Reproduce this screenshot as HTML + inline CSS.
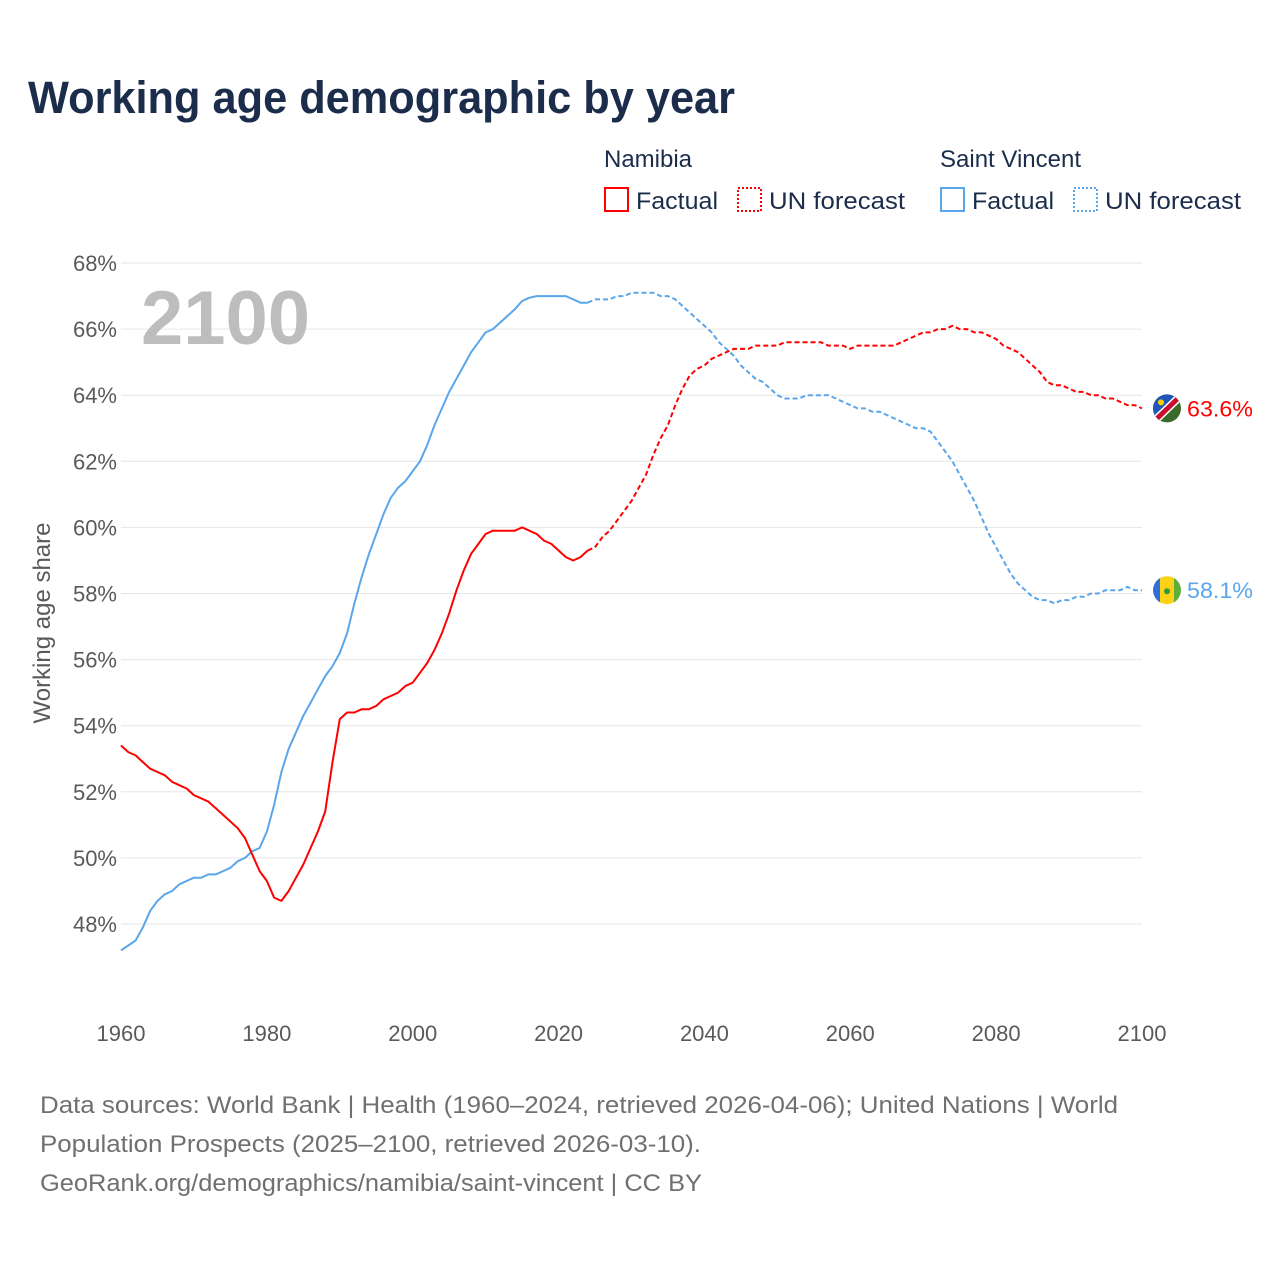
<!DOCTYPE html>
<html><head><meta charset="utf-8"><style>
body{margin:0;background:#fff;font-family:"Liberation Sans",sans-serif}
#wrap{position:relative;width:1280px;height:1280px;overflow:hidden}
</style></head><body>
<div id="wrap">
<svg id="chart" width="1280" height="1280"></svg>
</div>
<script>
const years0 = 1960;
const namFactual = [53.4,53.2,53.1,52.9,52.7,52.6,52.5,52.3,52.2,52.1,
51.9,51.8,51.7,51.5,51.3,51.1,50.9,50.6,50.1,49.6,
49.3,48.8,48.7,49.0,49.4,49.8,50.3,50.8,51.4,52.9,
54.2,54.4,54.4,54.5,54.5,54.6,54.8,54.9,55.0,55.2,
55.3,55.6,55.9,56.3,56.8,57.4,58.1,58.7,59.2,59.5,
59.8,59.9,59.9,59.9,59.9,60.0,59.9,59.8,59.6,59.5,
59.3,59.1,59.0,59.1,59.3];
const namForecast = [59.4,59.7,59.9,60.2,60.5,60.8,61.2,61.6,62.2,62.7,
63.1,63.7,64.2,64.6,64.8,64.9,65.1,65.2,65.3,65.4,
65.4,65.4,65.5,65.5,65.5,65.5,65.6,65.6,65.6,65.6,
65.6,65.6,65.5,65.5,65.5,65.4,65.5,65.5,65.5,65.5,
65.5,65.5,65.6,65.7,65.8,65.9,65.9,66.0,66.0,66.1,
66.0,66.0,65.9,65.9,65.8,65.7,65.5,65.4,65.3,65.1,
64.9,64.7,64.4,64.3,64.3,64.2,64.1,64.1,64.0,64.0,
63.9,63.9,63.8,63.7,63.7,63.6];
const vctFactual = [47.2,47.35,47.5,47.9,48.4,48.7,48.9,49.0,49.2,49.3,
49.4,49.4,49.5,49.5,49.6,49.7,49.9,50.0,50.2,50.3,
50.8,51.6,52.6,53.3,53.8,54.3,54.7,55.1,55.5,55.8,
56.2,56.8,57.7,58.5,59.2,59.8,60.4,60.9,61.2,61.4,
61.7,62.0,62.5,63.1,63.6,64.1,64.5,64.9,65.3,65.6,
65.9,66.0,66.2,66.4,66.6,66.85,66.95,67.0,67.0,67.0,
67.0,67.0,66.9,66.8,66.8];
const vctForecast = [66.9,66.9,66.9,67.0,67.0,67.1,67.1,67.1,67.1,67.0,
67.0,66.9,66.7,66.5,66.3,66.1,65.9,65.6,65.4,65.2,
64.9,64.7,64.5,64.4,64.2,64.0,63.9,63.9,63.9,64.0,
64.0,64.0,64.0,63.9,63.8,63.7,63.6,63.6,63.5,63.5,
63.4,63.3,63.2,63.1,63.0,63.0,62.9,62.6,62.3,62.0,
61.6,61.2,60.8,60.3,59.8,59.4,59.0,58.6,58.3,58.1,
57.9,57.8,57.8,57.7,57.8,57.8,57.9,57.9,58.0,58.0,
58.1,58.1,58.1,58.2,58.1,58.1];
const yTicks = [48,50,52,54,56,58,60,62,64,66,68];
const xTicks = [1960,1980,2000,2020,2040,2060,2080,2100];

const svg = document.getElementById('chart');
const NS = 'http://www.w3.org/2000/svg';
const X = y => 121 + (y - 1960) * (1142 - 121) / 140;
const Y = v => 263 + (68 - v) * (924 - 263) / 20;
function mk(tag, attrs, parent){const e=document.createElementNS(NS,tag);for(const k in attrs)e.setAttribute(k,attrs[k]);(parent||svg).appendChild(e);return e;}
function txt(s, attrs){const e=mk('text',attrs);e.textContent=s;return e;}

let t;
t = txt('Working age demographic by year',{x:28,y:113,'font-size':45,'font-weight':'bold',fill:'#1b2d4b',textLength:707,lengthAdjust:'spacingAndGlyphs'});



// legend
t = txt('Namibia',{x:604,y:167,'font-size':24,fill:'#1b2d4b'});


t = txt('Saint Vincent',{x:940,y:167,'font-size':24,fill:'#1b2d4b'});


const legend = [[605,'#f00','','Factual','legend-namibia-factual',82],[738,'#f00','2 2','UN forecast','legend-namibia-forecast',136],
 [941,'#5aa6ea','','Factual','legend-saint-vincent-factual',82],[1074,'#5aa6ea','2 2','UN forecast','legend-saint-vincent-forecast',136]];
legend.forEach(l=>{
 const g = mk('g',{});
 
 
 mk('rect',{x:l[0],y:188,width:23,height:23,fill:'none',stroke:l[1],'stroke-width':2,'stroke-dasharray':l[2]},g);
 const tt = mk('text',{x:l[0]+31,y:209,'font-size':24,fill:'#1b2d4b',textLength:l[5],lengthAdjust:'spacingAndGlyphs'},g); tt.textContent=l[3];
});

// grid + y ticks
yTicks.forEach(v=>{
 const l = mk('line',{x1:121,x2:1142,y1:Y(v),y2:Y(v),stroke:'#e6e6e6','stroke-width':1});
 
 
 const tt = txt(v+'%',{x:117,y:Y(v)+8,'font-size':22,fill:'#5a5a5a','text-anchor':'end'});
 
 
});
xTicks.forEach(v=>{
 const tt = txt(String(v),{x:X(v),y:1041,'font-size':22,fill:'#5a5a5a','text-anchor':'middle'});
 
 
});
t = txt('Working age share',{x:0,y:0,'font-size':24,fill:'#5a5a5a','text-anchor':'middle',transform:'translate(50,623) rotate(-90)'});


t = txt('2100',{x:141,y:344,'font-size':76,'font-weight':'bold',fill:'#bdbdbd'});



function line(pts, color, dash, name){
 const d = pts.map((p,i)=>(i?'L':'M')+X(p[0]).toFixed(1)+','+Y(p[1]).toFixed(1)).join('');
 const p = mk('path',{d:d,fill:'none',stroke:color,'stroke-width':2,'stroke-dasharray':dash,'stroke-linejoin':'round'});
 
 
}
function series(arr,start){return arr.map((v,i)=>[start+i,v]);}
const nf = series(namFactual,1960), vf = series(vctFactual,1960);
line(vf,'#5aa6ea','','line-saint-vincent-factual');
line([vf[vf.length-1]].concat(series(vctForecast,2025)),'#5aa6ea','5 3','line-saint-vincent-forecast');
line(nf,'#f00','','line-namibia-factual');
line([nf[nf.length-1]].concat(series(namForecast,2025)),'#f00','5 3','line-namibia-forecast');

// end markers
const nEnd = namForecast[namForecast.length-1], vEnd = vctForecast[vctForecast.length-1];
let g = mk('g',{});


const ny = Y(nEnd);
mk('clipPath',{id:'cn'},g).appendChild(mk('circle',{cx:1167,cy:ny,r:14},g));
mk('rect',{x:1150,y:ny-16,width:34,height:32,fill:'#3b6b2a','clip-path':'url(#cn)'},g);
mk('polygon',{points:`1150,${ny-16} 1184,${ny-16} 1150,${ny+16}`,fill:'#1f57b8','clip-path':'url(#cn)'},g);
mk('line',{x1:1155,y1:ny+12,x2:1180,y2:ny-12,stroke:'#fff','stroke-width':8,'clip-path':'url(#cn)'},g);
mk('line',{x1:1155,y1:ny+12,x2:1180,y2:ny-12,stroke:'#c8102e','stroke-width':5,'clip-path':'url(#cn)'},g);
mk('circle',{cx:1161,cy:ny-6,r:3,fill:'#ffce00'},g);
t = txt(nEnd.toFixed(1)+'%',{x:1187,y:ny+8,'font-size':22,fill:'#f00',textLength:66,lengthAdjust:'spacingAndGlyphs'});



g = mk('g',{});


const vy = Y(vEnd);
mk('clipPath',{id:'cv'},g).appendChild(mk('circle',{cx:1167,cy:vy,r:14},g));
mk('rect',{x:1150,y:vy-16,width:11,height:32,fill:'#2f6fd6','clip-path':'url(#cv)'},g);
mk('rect',{x:1160,y:vy-16,width:15,height:32,fill:'#fcd116','clip-path':'url(#cv)'},g);
mk('rect',{x:1174,y:vy-16,width:12,height:32,fill:'#5fae3a','clip-path':'url(#cv)'},g);
mk('circle',{cx:1167,cy:vy+1,r:3,fill:'#2f9a3a'},g);
t = txt(vEnd.toFixed(1)+'%',{x:1187,y:vy+8,'font-size':22,fill:'#5aa6ea',textLength:66,lengthAdjust:'spacingAndGlyphs'});



// footer
const foot = ['Data sources: World Bank | Health (1960–2024, retrieved 2026-04-06); United Nations | World',
'Population Prospects (2025–2100, retrieved 2026-03-10).','GeoRank.org/demographics/namibia/saint-vincent | CC BY'];
const footW = [1078,661,662];
foot.forEach((s,i)=>{
 const tt = txt(s,{x:40,y:1113+i*39,'font-size':24,fill:'#707070',textLength:footW[i],lengthAdjust:'spacingAndGlyphs'});
 
 
});
</script>
</body></html>
